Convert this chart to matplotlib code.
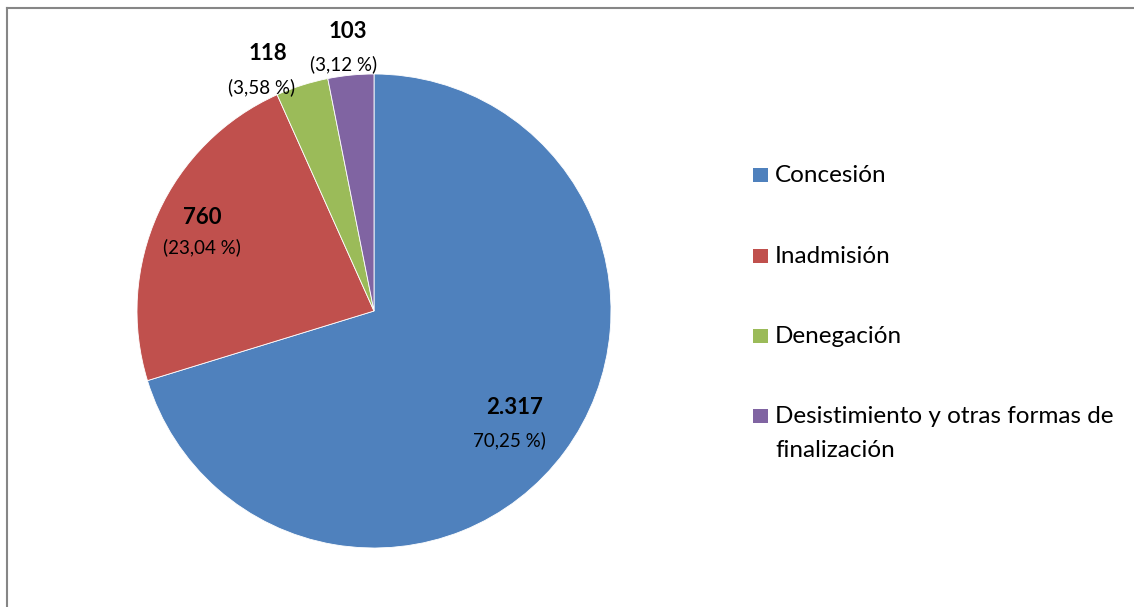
import matplotlib.pyplot as plt
from matplotlib.patches import Rectangle
from matplotlib.lines import Line2D
import numpy as np

plt.rcParams['font.family'] = ['Lato', 'DejaVu Sans']

# data
categories = ['Concesión', 'Inadmisión', 'Denegación',
              'Desistimiento y otras formas de\nfinalización']
values = [2317, 760, 118, 103]
value_labels = ['2.317', '760', '118', '103']
pct_labels = ['70,25 %)', '(23,04 %)', '(3,58 %)', '(3,12 %)']
colors = ['#4F81BD', '#C0504D', '#9BBB59', '#8064A2']

W, H = 1134, 607
fig = plt.figure(figsize=(W / 100, H / 100), dpi=100)

# pie axes, centre (374, 311) px, radius 237 px
cx, cy, r = 374, 311, 237
ax = fig.add_axes([(cx - r) / W, (H - cy - r) / H, 2 * r / W, 2 * r / H])
ax.pie(values, colors=colors, startangle=90, counterclock=False,
       radius=1, wedgeprops=dict(linewidth=0.6, edgecolor='white'))
ax.set_xlim(-1, 1)
ax.set_ylim(-1, 1)
ax.set_aspect('equal')
ax.axis('off')


def px(x, y):
    # pixel position -> pie data coords
    return (x - cx) / r, (cy - y) / r


# label positions (pixels): value, percentage
lab_pos = [((515, 407), (509, 440)),
           ((202, 217), (202, 247)),
           ((268, 53), (262, 87)),
           ((348, 31), (344, 64))]
for (vp, pp), v, p in zip(lab_pos, value_labels, pct_labels):
    ax.text(*px(*vp), v, ha='center', va='center', fontsize=16,
            fontweight='bold', color='black', clip_on=False)
    ax.text(*px(*pp), p, ha='center', va='center', fontsize=13.5,
            color='black', clip_on=False)

# manual legend (baseline of first line in px), one text per line
leg_base = [182, 263, 343, 423]
line_gap = 34
for yy, lab, col in zip(leg_base, categories, colors):
    fig.patches.append(Rectangle((753 / W, 1 - yy / H), 15 / W, 14 / H,
                                 transform=fig.transFigure, facecolor=col,
                                 edgecolor='none'))
    for i, line in enumerate(lab.split('\n')):
        fig.text(775 / W, 1 - (yy + i * line_gap) / H, line, ha='left',
                 va='baseline', fontsize=17.5)

# chart border (top and left only, rest is cropped)
fig.add_artist(Line2D([7 / W, 1], [1 - 8 / H, 1 - 8 / H],
                      transform=fig.transFigure, color='#868686', lw=1.5))
fig.add_artist(Line2D([7 / W, 7 / W], [0, 1 - 8 / H],
                      transform=fig.transFigure, color='#868686', lw=1.5))

plt.savefig('out.png', dpi=100)
